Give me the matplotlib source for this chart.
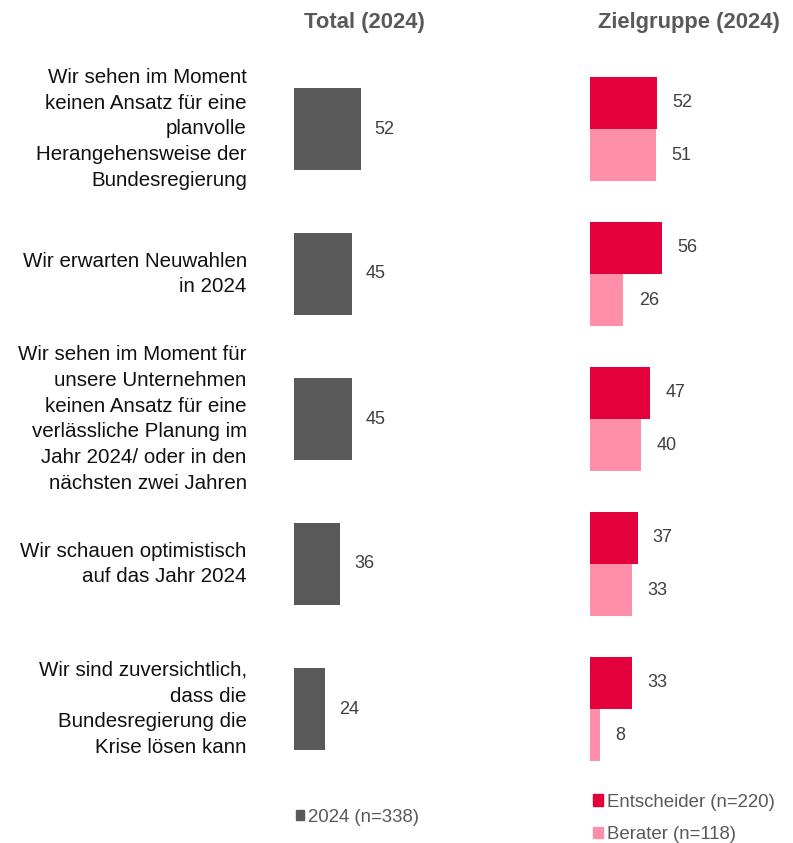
import matplotlib
matplotlib.use("Agg")
import matplotlib.pyplot as plt
from matplotlib import font_manager
from matplotlib.patches import Patch

font_manager.fontManager.ttflist = [f for f in font_manager.fontManager.ttflist
                                    if "narrow" not in f.fname.lower()]
try:
    font_manager.fontManager._findfont_cached.cache_clear()
except Exception:
    pass
plt.rcParams['font.family'] = ['Liberation Sans', 'DejaVu Sans']

categories = [
    "Wir sehen im Moment\nkeinen Ansatz für eine\nplanvolle\nHerangehensweise der\nBundesregierung",
    "Wir erwarten Neuwahlen\nin 2024",
    "Wir sehen im Moment für\nunsere Unternehmen\nkeinen Ansatz für eine\nverlässliche Planung im\nJahr 2024/ oder in den\nnächsten zwei Jahren",
    "Wir schauen optimistisch\nauf das Jahr 2024",
    "Wir sind zuversichtlich,\ndass die\nBundesregierung die\nKrise lösen kann",
]
total_2024 = [52, 45, 45, 36, 24]
entscheider = [52, 56, 47, 37, 33]
berater = [51, 26, 40, 33, 8]

title_left = "Total (2024)"
title_right = "Zielgruppe (2024)"
legend_total = "2024 (n=338)"
legend_ent = "Entscheider (n=220)"
legend_ber = "Berater (n=118)"

c_total = "#595959"
c_ent = "#E4003A"
c_ber = "#FF8FA8"
c_val = "#404040"

W, H = 793, 843
fig = plt.figure(figsize=(W / 100, H / 100), dpi=100)

y_top_px, y_bot_px = 56.5, 781.5
ax_b = (H - y_bot_px) / H
ax_h = (y_bot_px - y_top_px) / H
scale = 1.285  # px per unit
xmax = 100
ax_w = xmax * scale / W

axL = fig.add_axes([294 / W, ax_b, ax_w, ax_h])
axR = fig.add_axes([590 / W, ax_b, ax_w, ax_h])

ys = list(range(len(categories)))
val_fs = 13

axL.barh(ys, total_2024, height=0.566, color=c_total)
for y, v in zip(ys, total_2024):
    axL.annotate(str(v), (v, y), xytext=(10, 0), textcoords="offset points",
                 va="center", ha="left", fontsize=val_fs, color=c_val)

bh = 0.36
axR.barh([y - bh / 2 for y in ys], entscheider, height=bh, color=c_ent)
axR.barh([y + bh / 2 for y in ys], berater, height=bh, color=c_ber)
for y, v in zip(ys, entscheider):
    axR.annotate(str(v), (v, y - bh / 2), xytext=(11, 0), textcoords="offset points",
                 va="center", ha="left", fontsize=val_fs, color=c_val)
for y, v in zip(ys, berater):
    axR.annotate(str(v), (v, y + bh / 2), xytext=(11, 0), textcoords="offset points",
                 va="center", ha="left", fontsize=val_fs, color=c_val)

for ax in (axL, axR):
    ax.set_xlim(0, xmax)
    ax.set_ylim(len(categories) - 0.5, -0.5)
    ax.axis("off")

for y, lab in zip(ys, categories):
    axL.annotate(lab, (0, y), xytext=(-34, 0), textcoords="offset points",
                 ha="right", va="center", fontsize=14.8, color="#111111",
                 linespacing=1.445, multialignment="right")

fig.text(364 / W, 1 - 28 / H, title_left, ha="center", va="baseline",
         fontsize=15.8, fontweight="bold", color=c_total)
fig.text(689 / W, 1 - 28 / H, title_right, ha="center", va="baseline",
         fontsize=15.8, fontweight="bold", color=c_total)

leg_fs = 13.4
fig.legend(handles=[Patch(color=c_total, label=legend_total)],
           loc="center left", bbox_to_anchor=(296 / W, 1 - 817 / H),
           frameon=False, fontsize=leg_fs, handlelength=0.43, handleheight=0.43,
           handletextpad=0.22, borderpad=0, borderaxespad=0, labelcolor=c_total)
fig.legend(handles=[Patch(color=c_ent, label=legend_ent),
                    Patch(color=c_ber, label=legend_ber)],
           loc="center left", bbox_to_anchor=(593 / W, 1 - 818.5 / H),
           frameon=False, fontsize=leg_fs, handlelength=0.54, handleheight=0.54,
           handletextpad=0.22, borderpad=0, borderaxespad=0, labelspacing=0.85,
           labelcolor=c_total)

fig.savefig("out.png", dpi=100)
